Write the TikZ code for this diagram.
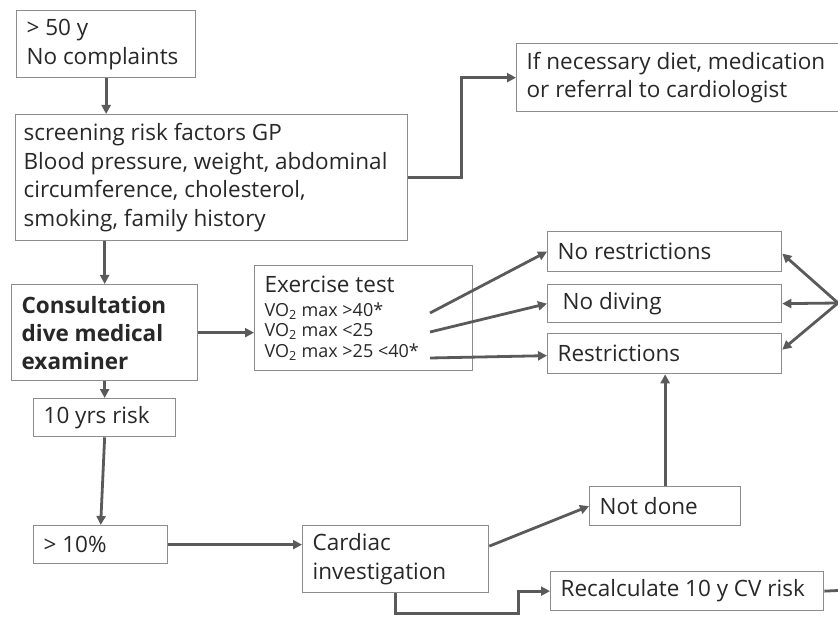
\documentclass[tikz,border=0pt]{standalone}
\usepackage{fontspec}
\setmainfont{Open Sans}
\usetikzlibrary{arrows.meta}
\definecolor{txt}{HTML}{282828}
\definecolor{bord}{HTML}{8C8C8C}
\definecolor{arr}{HTML}{5A5A5A}
\begin{document}
\begin{tikzpicture}[x=1pt,y=-1pt,
  box/.style={draw=bord, line width=1.3pt, anchor=north west, inner xsep=10pt, inner ysep=0pt,
    align=left, text=txt, font=\fontsize{22.5}{28.8}\selectfont,
    execute at begin node={\spaceskip=0pt\xspaceskip=0pt\relax}},
  conn/.style={draw=arr, line width=2.8pt, -{Triangle[length=9pt,width=9pt]}},
  plain/.style={draw=arr, line width=2.8pt}]
\useasboundingbox (0,0) rectangle (838,620);
\fill[white] (0,0) rectangle (838,620);

\node[box, text width=159pt, minimum height=67pt] (age) at (16,10) {> 50 y\\No complaints};
\node[box, text width=376pt, minimum height=126pt, inner xsep=8pt] (scr) at (15,114)
  {screening risk factors GP\\Blood pressure, weight, abdominal\\circumference, cholesterol,\\smoking, family history};
\node[box, text width=320pt, minimum height=68pt] (adv) at (516,43)
  {If necessary diet, medication\\or referral to cardiologist};
\node[box, text width=166pt, minimum height=96pt, font=\fontsize{22.5}{28}\selectfont\bfseries] (cons) at (11,284)
  {Consultation\\dive medical\\examiner};
\node[box, text width=198pt, minimum height=105pt] (ex) at (254,265)
  {{\fontsize{22.5}{26}\selectfont Exercise test\par}\vspace{3pt}%
   \fontsize{18}{20.5}\selectfont VO\textsubscript{2} max >40*\par VO\textsubscript{2} max <25\par VO\textsubscript{2} max >25 <40*\par};
\node[box, text width=122pt, minimum height=38pt] (risk) at (33,398) {10 yrs risk};
\node[box, text width=114pt, minimum height=38pt] (ten) at (33,525) {> 10\%};
\node[box, text width=166pt, minimum height=67pt] (card) at (302,525) {Cardiac\\investigation};
\node[box, text width=131pt, minimum height=39pt] (nd) at (589,486) {Not done};
\node[box, text width=253pt, minimum height=39pt] (rec) at (550,571) {Recalculate 10 y CV risk};
\node[box, text width=214pt, minimum height=40pt] (nr) at (547,231) {No restrictions};
\node[box, text width=214pt, minimum height=38pt] (nod) at (547,284) {\hspace{5pt}No diving};
\node[box, text width=214pt, minimum height=40pt] (rs) at (547,333) {Restrictions};

\coordinate (e1) at (430,313);
\coordinate (e2) at (430,332);
\coordinate (e3) at (430,358);
\coordinate (hub) at (838,303);
\coordinate (redge) at (838,590.5);

\draw[conn] (age.south) -- (age.south |- scr.north);
\draw[conn] (scr.east) -- ++(53,0) |- (adv.west);
\draw[conn] (cons.north |- scr.south) -- (cons.north);
\draw[conn] (cons.east) -- (cons.east -| ex.west);
\draw[conn] (cons.south) -- (risk.north);
\draw[conn] (risk.south) -- (ten.north);
\draw[conn] (ten.east) -- (ten.east -| card.west);
\draw[conn] ([yshift=13pt]card.east) -- (nd.west);
\draw[conn] (nd.north) -- (nd.north |- rs.south);
\draw[conn] (card.south) |- ++(123,20) |- (rec.west);
\draw[plain] (rec.east) -- (redge);
\draw[conn] (e1) -- (nr.west);
\draw[conn] (e2) -- (nod.west);
\draw[conn] (e3) -- ([yshift=-2pt]rs.west);
\draw[conn] (hub) -- ([yshift=-2pt]nr.east);
\draw[conn] (hub) -- (nod.east);
\draw[conn] (hub) -- ([yshift=4pt]rs.east);
\end{tikzpicture}
\end{document}
